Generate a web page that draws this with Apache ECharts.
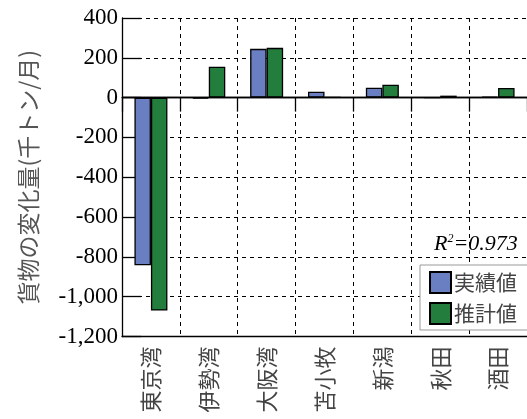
<!DOCTYPE html>
<html><head><meta charset="utf-8">
<script src="https://cdn.jsdelivr.net/npm/echarts@6/dist/echarts.min.js"></script>
<style>html,body{margin:0;padding:0;background:#fff}#c{width:527px;height:419px}</style>
</head><body><div id="c"></div>
<script>
const categories = ['東京湾','伊勢湾','大阪湾','苫小牧','新潟','秋田','酒田'];
const actual = [-842, -5, 245, 30, 50, 0, 5];
const estimate = [-1070, 155, 250, 2, 65, 10, 48];
const seriesNames = ['実績値','推計値'];
const yTicks = {min: -1200, max: 400, interval: 200};
const yName = '貨物の変化量(千トン/月)';
const r2Text = '0.973';

const chart = echarts.init(document.getElementById('c'));
const cjk = 'Noto Sans CJK JP';
const serif = 'Liberation Serif';
function fmt(v){const s=Math.abs(v).toString().replace(/\B(?=(\d{3})+(?!\d))/g, ',');return (v<0?'-':'')+s;}
chart.setOption({
  animation:false,
  grid:{left:122, top:18, width:413, height:318.5, containLabel:false},
  legend:{
    data:seriesNames, orient:'vertical', left:420, top:265,
    itemWidth:21, itemHeight:21, itemGap:8, padding:[6,40,5,9],
    backgroundColor:'#fff', borderColor:'#999', borderWidth:1,
    icon:'rect',
    textStyle:{fontFamily:cjk, fontSize:21, color:'#444', padding:[0,0,0,-2]},
    z:10
  },
  xAxis:[{
    type:'category', data:categories, position:'bottom',
    axisLine:{onZero:false, lineStyle:{color:'#000', width:1.3}},
    axisTick:{inside:true, length:20, lineStyle:{color:'#000', width:1.3}},
    axisLabel:{rotate:90, margin:10, fontFamily:cjk, fontSize:22, color:'#444'},
    splitLine:{show:true, lineStyle:{color:'#000', type:[4,4], width:1}}
  },{
    type:'category', data:categories, position:'top',
    axisLine:{show:true, lineStyle:{color:'#000', width:1.3}},
    axisTick:{show:true, inside:true, length:14, lineStyle:{color:'#000', width:1.3}},
    axisLabel:{show:false}, splitLine:{show:false}
  }],
  yAxis:{
    type:'value', min:yTicks.min, max:yTicks.max, interval:yTicks.interval,
    name:yName, nameLocation:'middle', nameRotate:90, nameGap:82,
    nameTextStyle:{fontFamily:cjk, fontSize:23, color:'#555'},
    axisLine:{show:true, lineStyle:{color:'#000', width:1.3}},
    axisTick:{show:true, inside:true, length:19, lineStyle:{color:'#000', width:1.3}},
    axisLabel:{fontFamily:serif, fontSize:23, color:'#000', margin:4, padding:[5,0,0,0], formatter:fmt},
    splitLine:{show:true, lineStyle:{color:'#000', type:[4,4], width:1}}
  },
  series:[{
    name:seriesNames[0], type:'bar', data:actual, barWidth:16.5, barGap:'0%',
    itemStyle:{color:'#6a7fc1', borderColor:'#000', borderWidth:1.3},
    markLine:{silent:true, symbol:'none', label:{show:false},
      lineStyle:{color:'#000', type:'solid', width:1.3}, data:[{yAxis:0}]}
  },{
    name:seriesNames[1], type:'bar', data:estimate, barWidth:16.5, barGap:'0%',
    itemStyle:{color:'#237e3e', borderColor:'#000', borderWidth:1.3}
  }],
  graphic:[{
    type:'text', left:434, top:233, z:20,
    style:{
      text:'{r|R}{s|2}{r|=' + r2Text + '}',
      rich:{
        r:{fontFamily:serif, fontStyle:'italic', fontSize:22, fill:'#000', verticalAlign:'bottom'},
        s:{fontFamily:serif, fontStyle:'italic', fontSize:12, fill:'#000', verticalAlign:'top', padding:[0,0,9,0]}
      }
    }
  }]
});
</script></body></html>
